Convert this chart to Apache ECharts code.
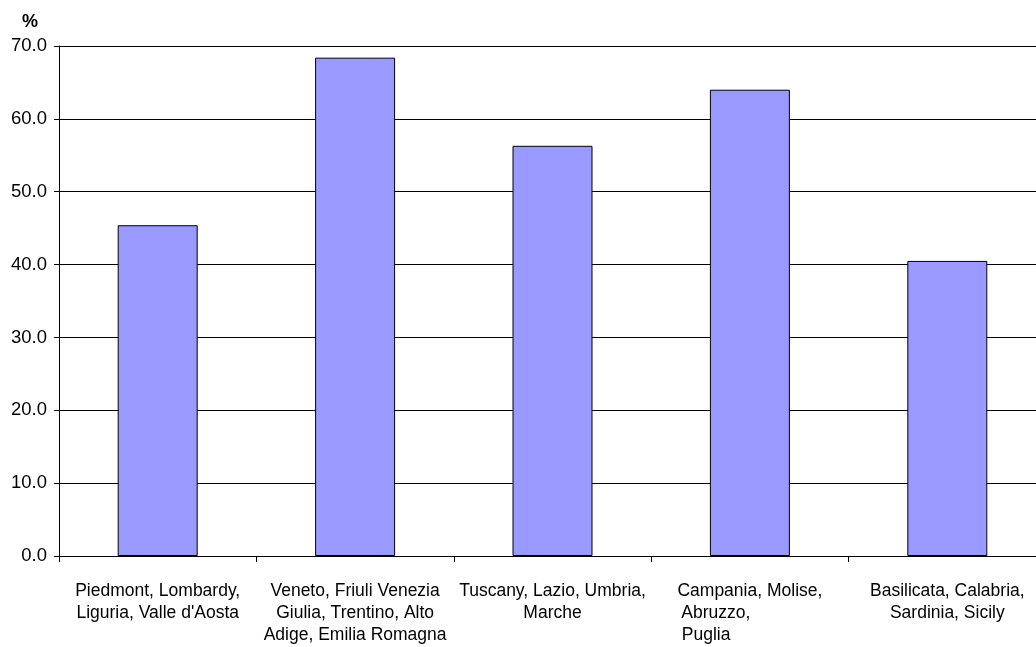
<!DOCTYPE html>
<html>
<head>
<meta charset="utf-8">
<script src="https://cdn.jsdelivr.net/npm/echarts@6/dist/echarts.min.js"></script>
<style>
  html, body { margin: 0; padding: 0; background: #ffffff; }
  #chart { width: 1036px; height: 647px; }
</style>
</head>
<body>
<div id="chart"></div>
<script>
// Macro-region groupings (wrapped as they appear under the axis)
const categories = [
  "Piedmont, Lombardy,\nLiguria, Valle d'Aosta",
  "Veneto, Friuli Venezia\nGiulia, Trentino, Alto\nAdige, Emilia Romagna",
  "Tuscany, Lazio, Umbria,\nMarche",
  "Campania, Molise,\nAbruzzo,              \nPuglia                  ",
  "Basilicata, Calabria,\nSardinia, Sicily"
];

// Share per group, in percent
const values = [45.4, 68.4, 56.3, 64.0, 40.5];

// Value axis range and step
const yMin = 0;
const yMax = 70;
const yStep = 10;

const font = "'Liberation Sans', Arial, sans-serif";

const chart = echarts.init(document.getElementById('chart'), null, { renderer: 'canvas' });

chart.setOption({
  animation: false,
  backgroundColor: '#ffffff',
  graphic: [{
    type: 'text',
    left: 22,
    top: 13,
    style: { text: '%', font: "bold 18px 'Liberation Sans', Arial, sans-serif", fill: '#000' }
  }],
  // plot area runs past the right edge of the canvas
  grid: { left: 59, right: -10, top: 46, bottom: 91, containLabel: false, outerBoundsMode: 'none' },
  xAxis: {
    type: 'category',
    data: categories,
    boundaryGap: true,
    axisLine: { show: true, lineStyle: { color: '#000', width: 1 } },
    axisTick: { show: true, length: 6, alignWithLabel: false, lineStyle: { color: '#000' } },
    axisLabel: {
      interval: 0,
      margin: 24,
      color: '#000',
      fontFamily: font,
      fontSize: 17.5,
      lineHeight: 22,
      align: 'center'
    },
    splitLine: { show: false }
  },
  yAxis: {
    type: 'value',
    min: yMin,
    max: yMax,
    interval: yStep,
    axisLine: { show: true, lineStyle: { color: '#000', width: 1 } },
    axisTick: { show: true, length: 5, lineStyle: { color: '#000' } },
    axisLabel: {
      margin: 12,
      color: '#000',
      fontFamily: font,
      fontSize: 18.5,
      formatter: v => v.toFixed(1)
    },
    splitLine: { show: true, lineStyle: { color: '#000', width: 1 } }
  },
  series: [{
    type: 'bar',
    data: values,
    barWidth: 80,
    itemStyle: { color: '#9999FF', borderColor: '#000', borderWidth: 1 }
  }]
});
</script>
</body>
</html>
